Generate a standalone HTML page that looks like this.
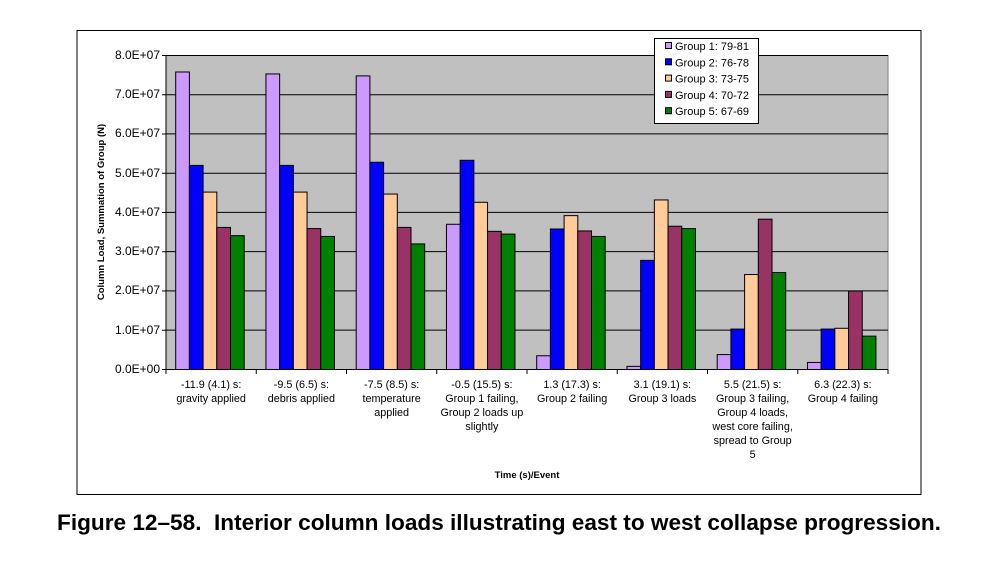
<!DOCTYPE html>
<html><head><meta charset="utf-8"><style>
body{margin:0;background:#fff;}
svg{display:block;font-family:"Liberation Sans",Arial,sans-serif;}
</style></head><body>
<svg width="988" height="578" viewBox="0 0 988 578" xmlns="http://www.w3.org/2000/svg">
<rect x="77" y="30.5" width="844" height="464" fill="#fff" stroke="#000" stroke-width="1"/>
<rect x="166" y="55.5" width="722" height="314" fill="#c0c0c0" stroke="#808080" stroke-width="1"/>
<g stroke="#000" stroke-width="1">
<line x1="166" y1="94.7" x2="888" y2="94.7"/>
<line x1="166" y1="133.9" x2="888" y2="133.9"/>
<line x1="166" y1="173.2" x2="888" y2="173.2"/>
<line x1="166" y1="212.4" x2="888" y2="212.4"/>
<line x1="166" y1="251.6" x2="888" y2="251.6"/>
<line x1="166" y1="290.9" x2="888" y2="290.9"/>
<line x1="166" y1="330.1" x2="888" y2="330.1"/>
<line x1="166" y1="55.5" x2="888" y2="55.5"/>
<line x1="166" y1="55.5" x2="166" y2="369.5"/>
<line x1="166" y1="369.5" x2="888" y2="369.5"/>
</g>
<g id="bars" stroke="#000" stroke-width="1"></g>
<g stroke="#000" stroke-width="1" id="ticks"></g>
<g font-size="12" text-anchor="end" fill="#000">
<text x="160" y="59">8.0E+07</text>
<text x="160" y="98">7.0E+07</text>
<text x="160" y="137">6.0E+07</text>
<text x="160" y="177">5.0E+07</text>
<text x="160" y="216">4.0E+07</text>
<text x="160" y="255">3.0E+07</text>
<text x="160" y="294">2.0E+07</text>
<text x="160" y="334">1.0E+07</text>
<text x="160" y="373">0.0E+00</text>
</g>
<text transform="translate(104,212) rotate(-90)" font-size="9.5" font-weight="bold" text-anchor="middle">Column Load, Summation of Group (N)</text>
<g font-size="10.8" text-anchor="middle" id="cats"></g>
<text x="527" y="478" font-size="9.5" font-weight="bold" text-anchor="middle">Time (s)/Event</text>
<rect x="654.5" y="38.5" width="104" height="85" fill="#fff" stroke="#000"/>
<g font-size="11" id="legend"></g>
<text x="499" y="530" font-size="22.6" font-weight="bold" text-anchor="middle">Figure 12–58.&#160; Interior column loads illustrating east to west collapse progression.</text>
</svg>
<script>
var ns="http://www.w3.org/2000/svg";
var cols=["#cc99ff","#0000ff","#ffcc99","#993366","#008000"];
var data=[[7.58,5.2,4.52,3.62,3.41],[7.53,5.2,4.52,3.59,3.39],[7.48,5.28,4.47,3.62,3.2],[3.7,5.33,4.26,3.52,3.45],[0.35,3.58,3.92,3.53,3.39],[0.08,2.78,4.32,3.65,3.59],[0.38,1.03,2.42,3.83,2.47],[0.18,1.03,1.05,2.0,0.85]];
var labels=[["-11.9 (4.1) s:","gravity applied"],["-9.5 (6.5) s:","debris applied"],["-7.5 (8.5) s:","temperature","applied"],["-0.5 (15.5) s:","Group 1 failing,","Group 2 loads up","slightly"],["1.3 (17.3) s:","Group 2 failing"],["3.1 (19.1) s:","Group 3 loads"],["5.5 (21.5) s:","Group 3 failing,","Group 4 loads,","west core failing,","spread to Group","5"],["6.3 (22.3) s:","Group 4 failing"]];
var cw=722/8,bw=13.7,y0=369.5,sc=39.25;
var g=document.getElementById("bars"),t=document.getElementById("ticks"),c=document.getElementById("cats"),l=document.getElementById("legend");
function el(n,a,p){var e=document.createElementNS(ns,n);for(var k in a)e.setAttribute(k,a[k]);p.appendChild(e);return e;}
for(var i=0;i<8;i++){var cx=166+i*cw;
 for(var j=0;j<5;j++){var h=data[i][j]*sc;el("rect",{x:cx+9.7+j*bw,y:y0-h,width:bw,height:h,fill:cols[j]},g);}
 el("line",{x1:cx+cw,y1:369.5,x2:cx+cw,y2:374},t);
 for(var k=0;k<labels[i].length;k++){var tx=el("text",{x:cx+cw/2,y:388+k*14},c);tx.textContent=labels[i][k];}
}
el("line",{x1:166,y1:369.5,x2:166,y2:374},t);
for(var j=0;j<9;j++)el("line",{x1:162,y1:55.5+j*39.25,x2:166,y2:55.5+j*39.25},t);
var ln=["Group 1: 79-81","Group 2: 76-78","Group 3: 73-75","Group 4: 70-72","Group 5: 67-69"];
for(var j=0;j<5;j++){el("rect",{x:665.5,y:42.5+j*16.3,width:6,height:6,fill:cols[j],stroke:"#000"},l);var tx=el("text",{x:675,y:50+j*16.3},l);tx.textContent=ln[j];}
</script>
</body></html>
